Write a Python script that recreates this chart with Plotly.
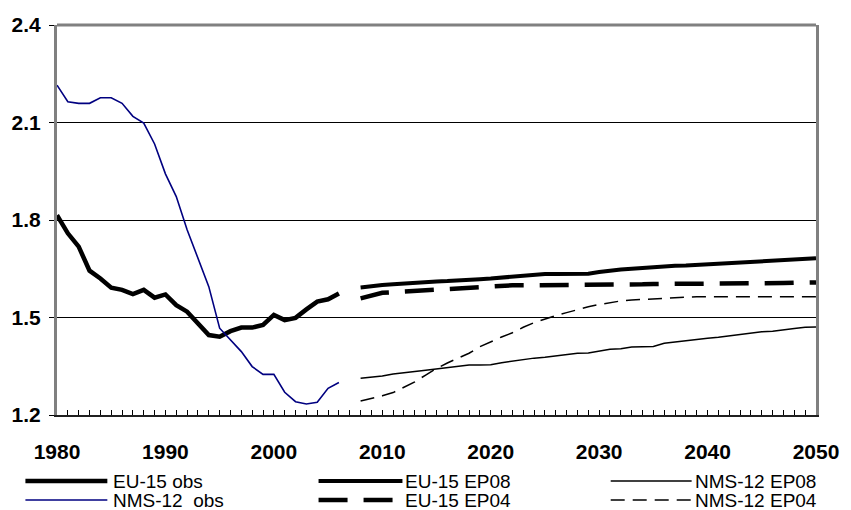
import plotly.graph_objects as go

# ---------------- data ----------------
obs_years = list(range(1980, 2007))
eu15_obs = [1.815, 1.759, 1.718, 1.644, 1.620, 1.592, 1.585, 1.572, 1.585, 1.561,
            1.571, 1.538, 1.518, 1.482, 1.446, 1.441, 1.458, 1.469, 1.469, 1.477,
            1.508, 1.492, 1.499, 1.525, 1.549, 1.556, 1.574]
nms12_obs = [2.215, 2.164, 2.159, 2.159, 2.176, 2.176, 2.159, 2.119, 2.098, 2.034,
             1.942, 1.872, 1.770, 1.680, 1.595, 1.467, 1.431, 1.395, 1.349, 1.325,
             1.325, 1.270, 1.241, 1.234, 1.239, 1.282, 1.300]

proj_years = list(range(2008, 2051))
eu15_ep08 = [1.592, 1.597, 1.600, 1.602, 1.605, 1.607, 1.610, 1.611, 1.612, 1.613,
             1.615, 1.618, 1.620, 1.623, 1.626, 1.629, 1.632, 1.634, 1.634, 1.634,
             1.634, 1.635, 1.640, 1.645, 1.648, 1.650, 1.653, 1.656, 1.658, 1.659,
             1.660, 1.662, 1.663, 1.666, 1.668, 1.670, 1.673, 1.675, 1.677, 1.678,
             1.681, 1.682, 1.682]
eu15_ep04 = [1.559, 1.566, 1.576, 1.578, 1.580, 1.582, 1.585, 1.587, 1.589, 1.591,
             1.593, 1.596, 1.598, 1.599, 1.599, 1.599, 1.599, 1.600, 1.600, 1.600,
             1.600, 1.600, 1.601, 1.601, 1.602, 1.602, 1.602, 1.603, 1.603, 1.603,
             1.603, 1.604, 1.604, 1.604, 1.605, 1.605, 1.605, 1.606, 1.606, 1.606,
             1.607, 1.607, 1.608]
nms12_ep08 = [1.313, 1.316, 1.320, 1.326, 1.331, 1.334, 1.338, 1.342, 1.346, 1.350,
              1.354, 1.354, 1.355, 1.361, 1.366, 1.372, 1.375, 1.378, 1.382, 1.387,
              1.390, 1.391, 1.397, 1.402, 1.404, 1.409, 1.410, 1.411, 1.421, 1.425,
              1.430, 1.434, 1.436, 1.439, 1.443, 1.448, 1.453, 1.456, 1.458, 1.461,
              1.466, 1.470, 1.471]
nms12_ep04 = [1.243, 1.250, 1.259, 1.269, 1.285, 1.302, 1.323, 1.343, 1.360, 1.374,
              1.390, 1.410, 1.426, 1.440, 1.453, 1.470, 1.484, 1.496, 1.506, 1.515,
              1.525, 1.533, 1.540, 1.546, 1.551, 1.554, 1.556, 1.557, 1.558, 1.560,
              1.563, 1.564, 1.564, 1.564, 1.564, 1.564, 1.564, 1.564, 1.564, 1.564,
              1.564, 1.564, 1.564]

x_ticks = [1980, 1990, 2000, 2010, 2020, 2030, 2040, 2050]
y_ticks = [1.2, 1.5, 1.8, 2.1, 2.4]

labels = ["EU-15 obs", "NMS-12  obs", "EU-15 EP08", "EU-15 EP04", "NMS-12 EP08", "NMS-12 EP04"]

# ---------------- styles ----------------
W, H = 851, 510
ML, MR, MT, MB = 57, 25, 25, 95
FONT = "Liberation Sans, Arial, sans-serif"
NAVY = "#000080"

series = [
    (obs_years, eu15_obs, dict(color="black", width=4.5)),
    (obs_years, nms12_obs, dict(color=NAVY, width=1.6)),
    (proj_years, eu15_ep08, dict(color="black", width=4)),
    (proj_years, eu15_ep04, dict(color="black", width=4.5, dash="29px,16px")),
    (proj_years, nms12_ep08, dict(color="black", width=1.5)),
    (proj_years, nms12_ep04, dict(color="black", width=1.5, dash="14px,8px")),
]

fig = go.Figure()
for (xs, ys, ln), name in zip(series, labels):
    fig.add_trace(go.Scatter(x=xs, y=ys, mode="lines", name=name, line=ln,
                             showlegend=False))

pw = W - ML - MR
ph = H - MT - MB


def px_x(p):
    return (p - ML) / pw


def px_y(p):
    return (H - MB - p) / ph


# manual legend (long line samples as in the original)
legend_cols = [(25, 108, 112), (322, 407, 408), (618, 700, 701)]
legend_rows = [481, 500]
shapes = []
annotations = []
for i, ((xs, ys, ln), name) in enumerate(zip(series, labels)):
    col = legend_cols[i // 2]
    row = legend_rows[i % 2]
    shapes.append(dict(type="line", xref="paper", yref="paper",
                       x0=px_x(col[0]), x1=px_x(col[1]), y0=px_y(row), y1=px_y(row),
                       line=ln))
    annotations.append(dict(xref="paper", yref="paper", x=px_x(col[2]), y=px_y(row),
                            xanchor="left", yanchor="middle", text=name, showarrow=False,
                            font=dict(family=FONT, size=19, color="black")))

# top border of plot frame
shapes.append(dict(type="line", xref="paper", yref="paper", x0=0, x1=1, y0=1, y1=1,
                   line=dict(color="#808080", width=3)))

fig.update_layout(
    width=W, height=H,
    margin=dict(l=ML, r=MR, t=MT, b=MB),
    paper_bgcolor="white", plot_bgcolor="white",
    shapes=shapes, annotations=annotations,
    xaxis=dict(range=[1980, 2050], tickvals=x_ticks, ticktext=[str(v) for v in x_ticks],
               showgrid=False, zeroline=False,
               showline=True, linecolor="#202020", linewidth=2,
               ticks="inside", ticklen=5, tickcolor="black", tickwidth=1,
               minor=dict(ticks="inside", dtick=1, tick0=1980, ticklen=5,
                          tickcolor="black", tickwidth=1, showgrid=False),
               ticklabelstandoff=17,
               tickfont=dict(family=FONT, size=21, color="black", weight="bold")),
    yaxis=dict(range=[1.2, 2.4], tickvals=y_ticks, ticktext=["1.2", "1.5", "1.8", "2.1", "2.4"],
               showgrid=True, gridcolor="black", gridwidth=1, zeroline=False,
               showline=True, linecolor="#808080", linewidth=3, mirror=True,
               ticks="outside", ticklen=5, tickcolor="black", tickwidth=1,
               ticklabelstandoff=4,
               tickfont=dict(family=FONT, size=21, color="black", weight="bold")),
)

fig.write_html("out.html")
